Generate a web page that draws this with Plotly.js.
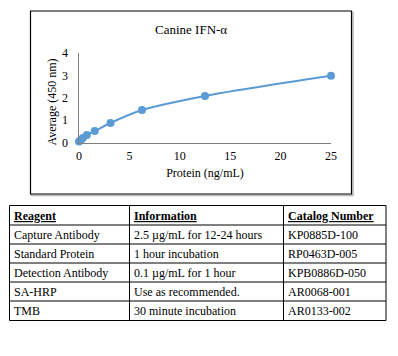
<!DOCTYPE html>
<html><head><meta charset="utf-8">
<script src="https://cdn.plot.ly/plotly-3.0.1.min.js"></script>
<style>html,body{margin:0;padding:0;background:#fff;}#c{width:398px;height:356px;}</style>
</head><body><div id="c"></div>
<script>
// Data
const concentration = [0, 0.195, 0.39, 0.78, 1.5625, 3.125, 6.25, 12.5, 25];
const absorbance = [0.05, 0.12, 0.2, 0.33, 0.51, 0.87, 1.45, 2.08, 2.98];
const chartTitle = 'Canine IFN-α';
const xTitle = 'Protein (ng/mL)';
const yTitle = 'Average (450 nm)';
const xTicks = [0, 5, 10, 15, 20, 25];
const yTicks = [0, 1, 2, 3, 4];
const headers = ['Reagent', 'Information', 'Catalog Number'];
const reagents = ['Capture Antibody', 'Standard Protein', 'Detection Antibody', 'SA-HRP', 'TMB'];
const information = ['2.5 µg/mL for 12-24 hours', '1 hour incubation', '0.1 µg/mL for 1 hour', 'Use as recommended.', '30 minute incubation'];
const catalog = ['KP0885D-100', 'RP0463D-005', 'KPB0886D-050', 'AR0068-001', 'AR0133-002'];

// Layout constants (pixels)
const W = 398, H = 356;
const px = x => x / W;
const py = y => 1 - y / H;
const font = "'Liberation Serif', serif";
const lineColor = '#5b9bd5';

const shapes = [];
const annotations = [];

// Chart box with shadow
shapes.push({type:'rect', xref:'paper', yref:'paper', x0:px(31.5), x1:px(353), y0:py(12.5), y1:py(195.5), line:{color:'#b8b8b8', width:1.5}, layer:'below'});
shapes.push({type:'rect', xref:'paper', yref:'paper', x0:px(30.5), x1:px(351.5), y0:py(11), y1:py(194), line:{color:'#000', width:1.2}, fillcolor:'#fff', layer:'below'});

// Table
const colX = [9.5, 129.5, 283.5, 386];
const rowY = [205.5, 225, 244, 263, 282, 301, 320.5];
const columns = [reagents, information, catalog];
for (let i = 0; i < colX.length; i++) {
  shapes.push({type:'line', xref:'paper', yref:'paper', x0:px(colX[i]), x1:px(colX[i]), y0:py(rowY[0]), y1:py(rowY[rowY.length-1]), line:{color:'#000', width:1}});
}
for (let j = 0; j < rowY.length; j++) {
  shapes.push({type:'line', xref:'paper', yref:'paper', x0:px(colX[0]), x1:px(colX[3]), y0:py(rowY[j]), y1:py(rowY[j]), line:{color:'#000', width:1}});
}
const cellFont = {family: font, size: 12, color: '#000'};
for (let c = 0; c < 3; c++) {
  annotations.push({xref:'paper', yref:'paper', x:px(colX[c] + 2.5), y:py((rowY[0] + rowY[1]) / 2 + 0.5), xanchor:'left', yanchor:'middle', showarrow:false, text:'<b><u>' + headers[c] + '</u></b>', font:cellFont});
  for (let r = 0; r < columns[c].length; r++) {
    annotations.push({xref:'paper', yref:'paper', x:px(colX[c] + 2.5), y:py((rowY[r+1] + rowY[r+2]) / 2), xanchor:'left', yanchor:'middle', showarrow:false, text:columns[c][r], font:cellFont});
  }
}

// Chart title and y-axis title
annotations.push({xref:'paper', yref:'paper', x:px(191), y:py(29), xanchor:'center', yanchor:'middle', showarrow:false, text:chartTitle, font:{family:font, size:13, color:'#000'}});
annotations.push({xref:'paper', yref:'paper', x:px(51.5), y:py(102), xanchor:'center', yanchor:'middle', showarrow:false, textangle:-90, text:yTitle, font:{family:font, size:12, color:'#000'}});

const trace = {
  x: concentration, y: absorbance, type:'scatter', mode:'lines+markers',
  line:{color:lineColor, width:2, shape:'spline', smoothing:0.8},
  marker:{color:lineColor, size:8},
  cliponaxis:false, hoverinfo:'skip'
};

const layout = {
  width: W, height: H,
  margin:{l:0, r:0, t:0, b:0},
  paper_bgcolor:'#fff', plot_bgcolor:'rgba(0,0,0,0)',
  showlegend:false,
  font:{family:font, size:12, color:'#000'},
  xaxis:{
    domain:[px(79), px(331)], range:[0, 25], tickvals:xTicks,
    showgrid:false, zeroline:false, showline:true, linecolor:'#7f7f7f', linewidth:1.5,
    ticks:'', ticklabelstandoff:2, tickfont:{family:font, size:12, color:'#000'},
    title:{text:xTitle, font:{family:font, size:12, color:'#000'}, standoff:6},
    anchor:'y', fixedrange:true
  },
  yaxis:{
    domain:[py(142.5), py(53)], range:[0, 4], tickvals:yTicks,
    showgrid:false, zeroline:false, showline:true, linecolor:'#7f7f7f', linewidth:1.5,
    ticks:'', ticklabelstandoff:7, tickfont:{family:font, size:12, color:'#000'},
    anchor:'x', fixedrange:true
  },
  shapes: shapes,
  annotations: annotations
};

Plotly.newPlot('c', [trace], layout, {displayModeBar:false, staticPlot:true});
</script></body></html>
